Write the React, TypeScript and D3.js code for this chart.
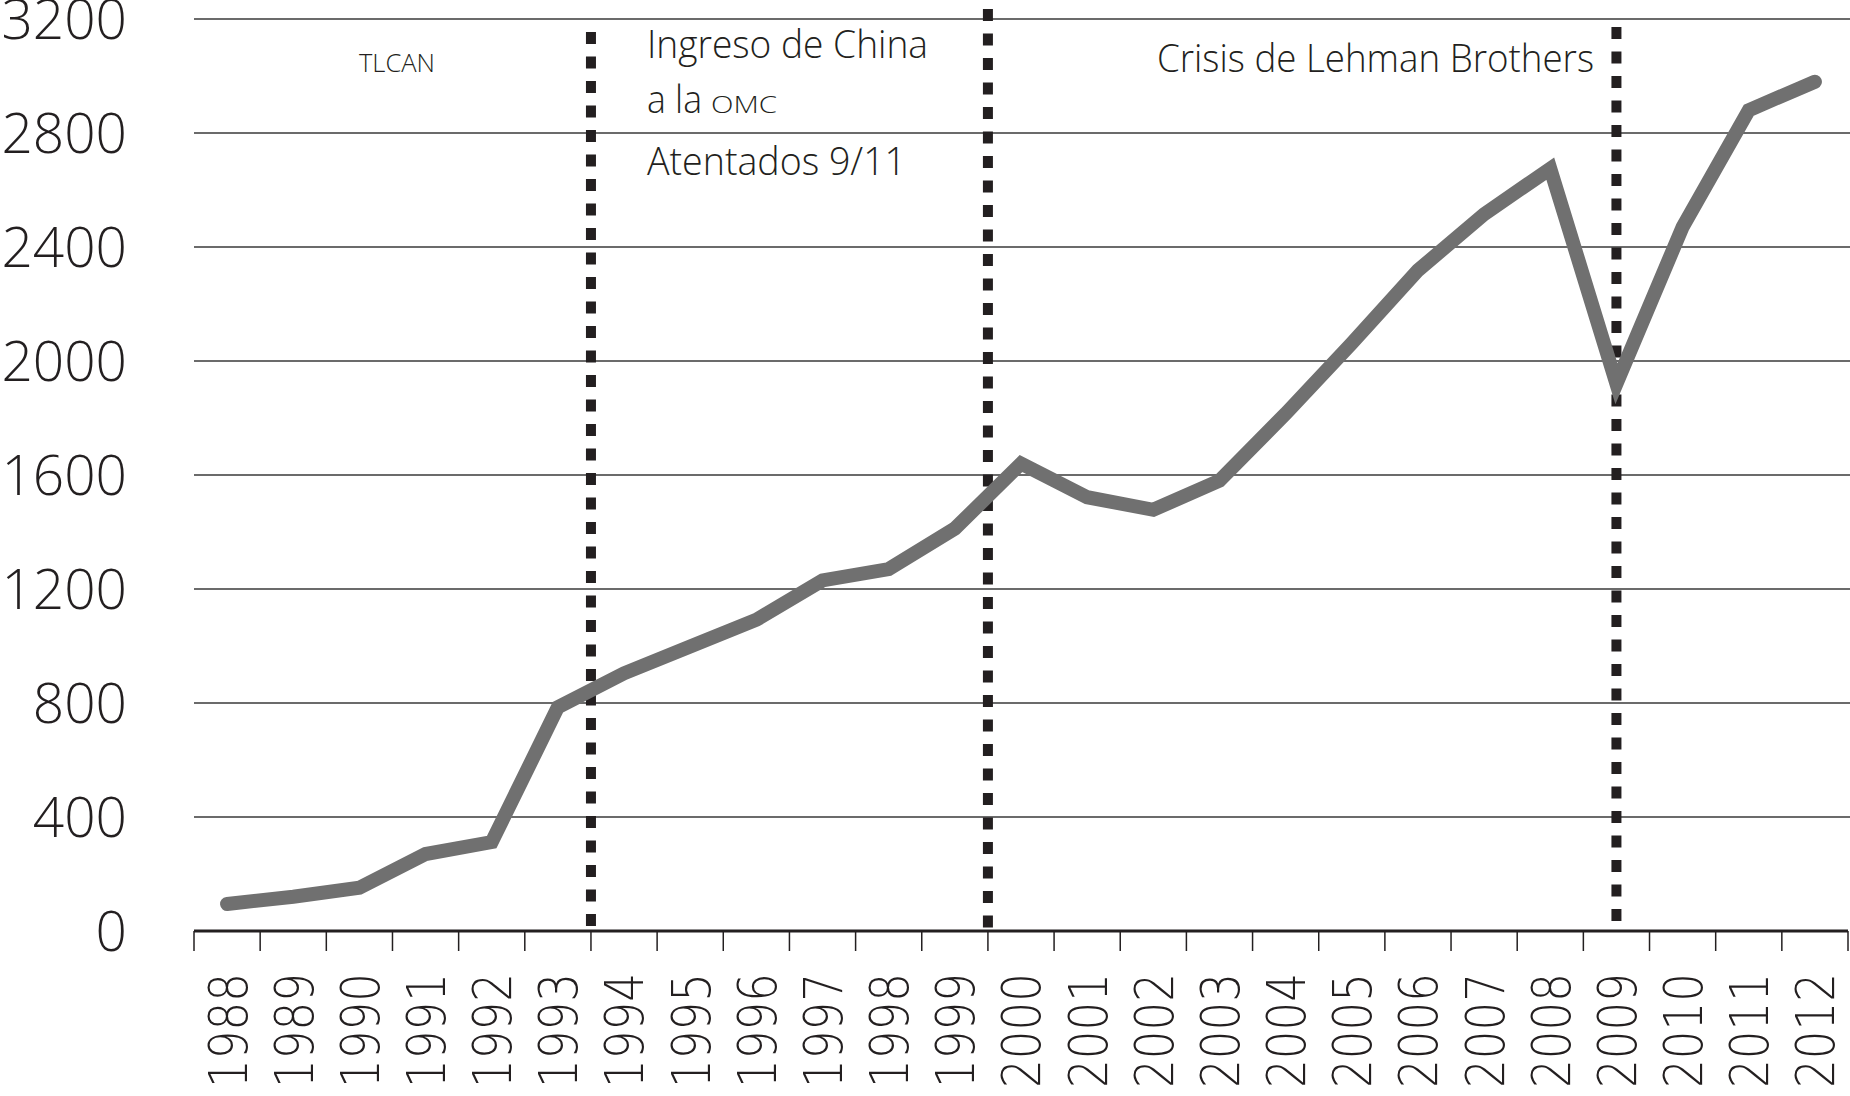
import * as d3 from "d3";

const years = [
  "1988", "1989", "1990", "1991", "1992", "1993", "1994", "1995", "1996",
  "1997", "1998", "1999", "2000", "2001", "2002", "2003", "2004", "2005",
  "2006", "2007", "2008", "2009", "2010", "2011", "2012",
];

const values = [
  95, 120, 152, 270, 312, 785, 904, 998, 1092, 1230, 1270, 1412, 1640, 1522,
  1478, 1580, 1815, 2062, 2318, 2515, 2675, 1920, 2470, 2880, 2980,
];

const yTicks = [0, 400, 800, 1200, 1600, 2000, 2400, 2800, 3200];

// events: year and where on the band the dotted line sits
const eventYears = ["1994", "2000", "2009"];
const eventAlign = ["start", "start", "center"];

const width = 1850;
const height = 1096;
const margin = { top: 19, right: 2, bottom: 165, left: 194 };

export default function App() {
  const innerW = width - margin.left - margin.right;
  const innerH = height - margin.top - margin.bottom;

  const x = d3.scaleBand().domain(years).range([0, innerW]).padding(0);
  const y = d3.scaleLinear().domain([0, 3200]).range([innerH, 0]);

  const line = d3
    .line<number>()
    .x((_, i) => (x(years[i]) || 0) + x.bandwidth() / 2)
    .y((d) => y(d));

  const eventTops = [13, -10, 8];
  const edges = d3.range(years.length + 1).map((i) => i * x.bandwidth());

  return (
    <svg
      width={width}
      height={height}
      style={{ position: "absolute", left: 0, top: 0, background: "#fff" }}
    >
      <g transform={`translate(${margin.left},${margin.top})`}>
        {/* grid */}
        {yTicks
          .filter((t) => t > 0)
          .map((t) => (
            <line
              key={t}
              x1={0}
              x2={innerW + margin.right}
              y1={y(t)}
              y2={y(t)}
              stroke="#3a3a3a"
              strokeWidth={1.4}
            />
          ))}

        {/* y labels */}
        {yTicks.map((t) => (
          <text
            key={`yl-${t}`}
            x={-67}
            y={y(t)}
            dy="0.36em"
            textAnchor="end"
            fontFamily="'Open Sans', sans-serif"
            fontWeight={300}
            fontSize={55}
            fill="#231f20"
          >
            {t}
          </text>
        ))}

        {/* x axis */}
        <line x1={0} x2={innerW} y1={innerH} y2={innerH} stroke="#231f20" strokeWidth={3} />
        {edges.map((e, i) => (
          <line
            key={`tk-${i}`}
            x1={e}
            x2={e}
            y1={innerH}
            y2={innerH + 20}
            stroke="#231f20"
            strokeWidth={1.5}
          />
        ))}
        {years.map((yr) => (
          <text
            key={`xl-${yr}`}
            transform={`translate(${(x(yr) || 0) + x.bandwidth() / 2},${innerH + 42}) rotate(-90)`}
            textAnchor="end"
            dy="0.36em"
            fontFamily="'DejaVu Sans', sans-serif"
            fontWeight={200}
            fontSize={54}
            textLength={115}
            lengthAdjust="spacingAndGlyphs"
            fill="#231f20"
          >
            {yr}
          </text>
        ))}

        {/* dotted event lines */}
        {eventYears.map((yr, i) => {
          const ex =
            (x(yr) || 0) + (eventAlign[i] === "center" ? x.bandwidth() / 2 : 0);
          return (
            <line
              key={`ev-${yr}`}
              x1={ex}
              x2={ex}
              y1={eventTops[i]}
              y2={innerH}
              stroke="#231f20"
              strokeWidth={10}
              strokeDasharray="12 12.5"
            />
          );
        })}

        {/* series */}
        <path
          d={line(values) || ""}
          fill="none"
          stroke="#707070"
          strokeWidth={14}
          strokeLinecap="round"
          strokeLinejoin="miter"
        />
      </g>

      {/* annotations */}
      <g fontFamily="'Open Sans', sans-serif" fontWeight={300} fill="#231f20">
        <text x={359} y={72} fontSize={25} textLength={76} lengthAdjust="spacingAndGlyphs">
          TLCAN
        </text>
        <text x={647} y={58} fontSize={38} textLength={281} lengthAdjust="spacingAndGlyphs">
          Ingreso de China
        </text>
        <text x={647} y={113} fontSize={38}>
          <tspan textLength={55} lengthAdjust="spacingAndGlyphs">a la</tspan>
          <tspan x={711} fontSize={24} textLength={66} lengthAdjust="spacingAndGlyphs">
            OMC
          </tspan>
        </text>
        <text x={647} y={175} fontSize={38} textLength={259} lengthAdjust="spacingAndGlyphs">
          Atentados 9/11
        </text>
        <text x={1157} y={72} fontSize={39} textLength={437} lengthAdjust="spacingAndGlyphs">
          Crisis de Lehman Brothers
        </text>
      </g>
    </svg>
  );
}
